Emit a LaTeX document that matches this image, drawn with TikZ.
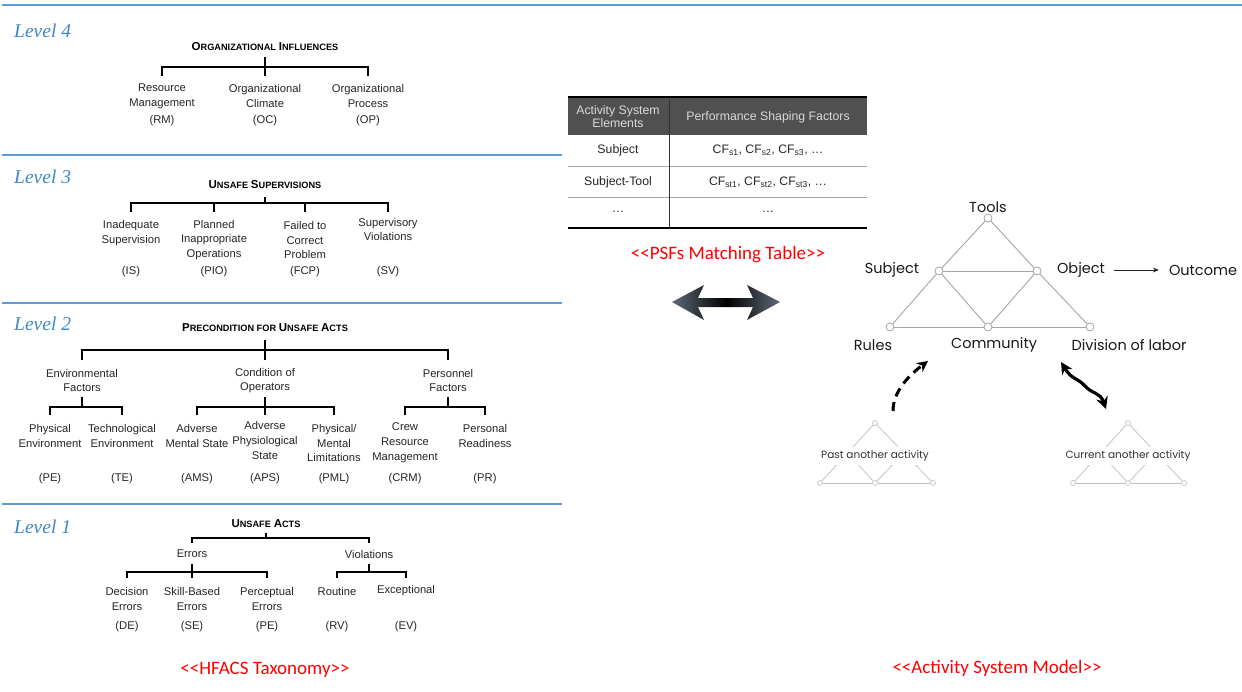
\documentclass[tikz,border=0pt]{standalone}
\usepackage{fontspec}
\setmainfont{Liberation Sans}
\newfontfamily\levelfont{Liberation Serif}
\newfontfamily\capfont{Carlito}
\newfontfamily\amfont{Poppins}
\usetikzlibrary{arrows.meta}

\definecolor{lvlblue}{RGB}{62,135,200}
\definecolor{rulblue}{RGB}{91,155,213}
\definecolor{hdrgray}{RGB}{80,80,80}
\definecolor{edgegray}{RGB}{165,165,165}
\definecolor{ghostgray}{RGB}{190,190,190}
\definecolor{arrgray}{RGB}{95,106,118}

% fake small caps: large initial, smaller capitals
\newcommand\scword[2]{{\fontsize{11.5}{13}\selectfont #1}{\fontsize{9.2}{11}\selectfont #2}}

\tikzset{
  lvl/.style={font=\levelfont\itshape\fontsize{19.5}{22}\selectfont, text=lvlblue, anchor=west, inner sep=0pt},
  head/.style={font=\bfseries, inner sep=0pt},
  item/.style={font=\fontsize{11.2}{14.8}\selectfont, text=black!85, align=center, inner sep=0pt},
  abbr/.style={font=\fontsize{11.2}{13}\selectfont, text=black!85, inner sep=0pt},
  tree/.style={line width=1.7pt, line join=miter},
  sepline/.style={rulblue, line width=2.8pt},
  caption/.style={font=\capfont\fontsize{19}{22}\selectfont, text=red, inner sep=0pt},
  cell/.style={font=\fontsize{12.3}{14}\selectfont, text=black!85, inner sep=0pt},
  hcell/.style={font=\fontsize{12.3}{13.5}\selectfont, text=white!85!black, align=center, inner sep=0pt},
  vtx/.style={circle, draw=edgegray, fill=white, line width=0.8pt, minimum size=8pt, inner sep=0pt},
  svtx/.style={circle, draw=ghostgray, fill=white, line width=0.6pt, minimum size=5pt, inner sep=0pt},
  amedge/.style={draw=edgegray, line width=0.9pt},
  sedge/.style={draw=ghostgray, line width=0.7pt},
  amlabel/.style={font=\amfont\fontsize{14.5}{16}\selectfont, text=black!90, inner sep=0pt},
  slabel/.style={font=\amfont\fontsize{10.5}{12}\selectfont, text=black!80, fill=white, inner xsep=1pt, inner ysep=4pt},
  bigtip/.style={-{Stealth[length=11pt,width=11pt]}},
}

\begin{document}
\begin{tikzpicture}[x=1pt,y=-1pt]
\fill[white] (0,0) rectangle (1242,691);
\useasboundingbox (0,0) rectangle (1242,691);

% ---------- separators ----------
\draw[sepline] (2,5) -- (1242,5);
\draw[sepline] (2,155) -- (562,155);
\draw[sepline] (2,303) -- (562,303);
\draw[sepline] (2,504) -- (562,504);

% ---------- Level 4 ----------
\node[lvl] (lv4) at (14,31) {Level 4};
\node[head] (oi) at (265,47) {\scword{O}{RGANIZATIONAL} \scword{I}{NFLUENCES}};
\node[item] (rm) at (162,96) {Resource\\Management};
\node[item] (oc) at (265,96) {Organizational\\Climate};
\node[item] (op) at (368,96) {Organizational\\Process};
\node[abbr] (rmx) at (162,121) {(RM)};
\node[abbr] (ocx) at (265,121) {(OC)};
\node[abbr] (opx) at (368,121) {(OP)};
\coordinate (j4) at (265,67);
\draw[tree] (j4 -| rm) ++(0,9) -- (j4 -| rm) -- (j4 -| op) -- ++(0,9);
\draw[tree] (j4) ++(0,-10) -- ++(0,19);

% ---------- Level 3 ----------
\node[lvl] (lv3) at (14,177) {Level 3};
\node[head] (us) at (265,185) {\scword{U}{NSAFE} \scword{S}{UPERVISIONS}};
\node[item] (is) at (131,233) {Inadequate\\Supervision};
\node[item] (pio) at (214,240) {Planned\\Inappropriate\\Operations};
\node[item] (fcp) at (305,240) {Failed to\\Correct\\Problem};
\node[item] (sv) at (388,229.5) {Supervisory\\Violations};
\node[abbr] (isx) at (131,272) {(IS)};
\node[abbr] (piox) at (214,272) {(PIO)};
\node[abbr] (fcpx) at (305,272) {(FCP)};
\node[abbr] (svx) at (388,272) {(SV)};
\coordinate (j3) at (265,203);
\draw[tree] (j3 -| is) ++(0,9) -- (j3 -| is) -- (j3 -| sv) -- ++(0,9);
\draw[tree] (j3 -| pio) -- ++(0,9);
\draw[tree] (j3 -| fcp) -- ++(0,9);
\draw[tree] (j3) -- ++(0,-6);

% ---------- Level 2 ----------
\node[lvl] (lv2) at (14,324) {Level 2};
\node[head] (pua) at (265,328) {\scword{P}{RECONDITION FOR} \scword{U}{NSAFE} \scword{A}{CTS}};
\node[item] (ef) at (82,380.5) {Environmental\\Factors};
\node[item] (co) at (265,380.5) {Condition of\\Operators};
\node[item] (pf) at (448,380.5) {Personnel\\Factors};
\coordinate (j2) at (265,350);
\draw[tree] (j2 -| ef) ++(0,10) -- (j2 -| ef) -- (j2 -| pf) -- ++(0,10);
\draw[tree] (j2) ++(0,-10) -- ++(0,20);

\node[item] (pe2) at (50,436) {Physical\\Environment};
\node[item] (te) at (122,436) {Technological\\Environment};
\node[item] (ams) at (197,436) {Adverse\\Mental State};
\node[item] (aps) at (265,440.5) {Adverse\\Physiological\\State};
\node[item] (pml) at (334,443) {Physical/\\Mental\\Limitations};
\node[item] (crm) at (405,443) {Crew\\Resource\\Management};
\node[item] (pr) at (485,436) {Personal\\Readiness};
\node[abbr] (pe2x) at (50,479) {(PE)};
\node[abbr] (tex) at (122,479) {(TE)};
\node[abbr] (amsx) at (197,479) {(AMS)};
\node[abbr] (apsx) at (265,479) {(APS)};
\node[abbr] (pmlx) at (334,479) {(PML)};
\node[abbr] (crmx) at (405,479) {(CRM)};
\node[abbr] (prx) at (485,479) {(PR)};

\coordinate (j2a) at (82,407);
\coordinate (j2b) at (265,407);
\coordinate (j2c) at (448,407);
\draw[tree] (j2a -| pe2) ++(0,8) -- (j2a -| pe2) -- (j2a -| te) -- ++(0,8);
\draw[tree] (j2a) -- ++(0,-10);
\draw[tree] (j2b -| ams) ++(0,8) -- (j2b -| ams) -- (j2b -| pml) -- ++(0,8);
\draw[tree] (j2b) ++(0,-10) -- ++(0,18);
\draw[tree] (j2c -| crm) ++(0,8) -- (j2c -| crm) -- (j2c -| pr) -- ++(0,8);
\draw[tree] (j2c) -- ++(0,-10);

% ---------- Level 1 ----------
\node[lvl] (lv1) at (14,527) {Level 1};
\node[head] (ua) at (266,524) {\scword{U}{NSAFE} \scword{A}{CTS}};
\node[item] (err) at (192,554) {Errors};
\node[item] (vio) at (369,554) {Violations};
\coordinate (j1) at (266,538);
\draw[tree] (j1 -| err) ++(0,5) -- (j1 -| err) -- (j1 -| vio) -- ++(0,5);
\draw[tree] (j1) -- ++(0,-5);

\node[item] (de) at (127,599) {Decision\\Errors};
\node[item] (se) at (192,599) {Skill-Based\\Errors};
\node[item] (pe1) at (267,599) {Perceptual\\Errors};
\node[item] (rv) at (337,591) {Routine};
\node[item] (ev) at (406,591) {Exceptional};
\node[abbr] (dex) at (127,627) {(DE)};
\node[abbr] (sex) at (192,627) {(SE)};
\node[abbr] (pe1x) at (267,627) {(PE)};
\node[abbr] (rvx) at (337,627) {(RV)};
\node[abbr] (evx) at (406,627) {(EV)};
\coordinate (j1a) at (192,572);
\coordinate (j1b) at (369,572);
\draw[tree] (j1a -| de) ++(0,6) -- (j1a -| de) -- (j1a -| pe1) -- ++(0,6);
\draw[tree] (j1a) ++(0,-8) -- ++(0,14);
\draw[tree] (j1b -| rv) ++(0,6) -- (j1b -| rv) -- (j1b -| ev) -- ++(0,6);
\draw[tree] (j1b) -- ++(0,-8);

\node[caption] (hfacs) at (265,670) {<<HFACS Taxonomy>>};

% ---------- PSF matching table ----------
\fill[hdrgray] (568,97) rectangle (867,135);
\draw[gray!70, line width=0.8pt] (568,166) -- (867,166);
\draw[gray!70, line width=0.8pt] (568,197) -- (867,197);
\draw[black!80, line width=1pt] (669,97) -- (669,228);
\draw[black, line width=2.2pt] (568,97) -- (867,97);
\draw[black, line width=2.2pt] (568,228) -- (867,228);
\node[hcell] (th1) at (618,116.5) {Activity System\\Elements};
\node[hcell] (th2) at (768,117) {Performance Shaping Factors};
\node[cell] (r1a) at (618,150) {Subject};
\node[cell] (r1b) at (768,150) {CF\textsubscript{s1}, CF\textsubscript{s2}, CF\textsubscript{s3}, \ldots};
\node[cell] (r2a) at (618,182) {Subject-Tool};
\node[cell] (r2b) at (768,182) {CF\textsubscript{st1}, CF\textsubscript{st2}, CF\textsubscript{st3}, \ldots};
\node[cell] (r3a) at (618,212) {\ldots};
\node[cell] (r3b) at (768,212) {\ldots};
\node[caption] (psf) at (728,255) {<<PSFs Matching Table>>};

% ---------- two-way arrow between table and model ----------
\shade[left color=arrgray, right color=arrgray, middle color=black]
  (672,302) -- (704,285) -- (698,298) -- (753,298) -- (747,285) -- (780,302)
  -- (747,320) -- (753,307) -- (698,307) -- (704,320) -- cycle;

% ---------- activity system model ----------
\node[vtx] (tl) at (988,218) {};
\node[vtx] (sb) at (939,271) {};
\node[vtx] (ob) at (1037,271) {};
\node[vtx] (ru) at (890,327) {};
\node[vtx] (cm) at (988,327) {};
\node[vtx] (dl) at (1090,327) {};
\draw[amedge] (tl) -- (sb);
\draw[amedge] (tl) -- (ob);
\draw[amedge] (sb) -- (ob);
\draw[amedge] (sb) -- (ru);
\draw[amedge] (sb) -- (cm);
\draw[amedge] (ob) -- (cm);
\draw[amedge] (ob) -- (dl);
\draw[amedge] (ru) -- (cm);
\draw[amedge] (cm) -- (dl);

\node[amlabel] (tlt) at (988,207) {Tools};
\node[amlabel] (sbt) at (892,270) {Subject};
\node[amlabel] (obt) at (1081,270) {Object};
\node[amlabel] (out) at (1203,270) {Outcome};
\node[amlabel] (rut) at (873,345) {Rules};
\node[amlabel] (cmt) at (994,345) {Community};
\node[amlabel] (dlt) at (1129,345) {Division of labor};
\draw[black!85, line width=0.8pt, -{Stealth[length=6pt,width=5pt]}, shorten <=9pt, shorten >=10pt] (obt.east) -- (out.west);

% ---------- past activity (small) ----------
\node[svtx] (ptl) at (875,423) {};
\node[svtx] (psb) at (847.5,453) {};
\node[svtx] (pob) at (904,453) {};
\node[svtx] (pru) at (820,483) {};
\node[svtx] (pcm) at (875,483) {};
\node[svtx] (pdl) at (933,483) {};
\draw[sedge] (ptl) -- (psb);
\draw[sedge] (ptl) -- (pob);
\draw[sedge] (psb) -- (pob);
\draw[sedge] (psb) -- (pru);
\draw[sedge] (psb) -- (pcm);
\draw[sedge] (pob) -- (pcm);
\draw[sedge] (pob) -- (pdl);
\draw[sedge] (pru) -- (pcm);
\draw[sedge] (pcm) -- (pdl);
\node[slabel] (pastlbl) at (875,456) {Past another activity};

% ---------- current activity (small) ----------
\node[svtx] (ctl) at (1128,423) {};
\node[svtx] (csb) at (1100.5,453) {};
\node[svtx] (cob) at (1156,453) {};
\node[svtx] (cru) at (1073,483) {};
\node[svtx] (ccm) at (1128,483) {};
\node[svtx] (cdl) at (1184,483) {};
\draw[sedge] (ctl) -- (csb);
\draw[sedge] (ctl) -- (cob);
\draw[sedge] (csb) -- (cob);
\draw[sedge] (csb) -- (cru);
\draw[sedge] (csb) -- (ccm);
\draw[sedge] (cob) -- (ccm);
\draw[sedge] (cob) -- (cdl);
\draw[sedge] (cru) -- (ccm);
\draw[sedge] (ccm) -- (cdl);
\node[slabel] (curlbl) at (1128,456) {Current another activity};

% ---------- links from the other activities ----------
\coordinate (pasta) at (893,411);
\coordinate (pastb) at (928,361);
\draw[line width=3pt, dash pattern=on 9pt off 6pt, bigtip]
  (pasta) .. controls (893,392) and (908,376) .. (pastb);
\coordinate (cura) at (1061,362);
\coordinate (curb) at (1106,409);
\draw[line width=3.2pt, {Stealth[length=12pt,width=12pt]}-{Stealth[length=12pt,width=12pt]}]
  (cura) .. controls (1072,380) and (1078,378) .. (1085,386)
  .. controls (1092,394) and (1100,392) .. (curb);

\node[caption] (asm) at (997,668) {<<Activity System Model>>};
\end{tikzpicture}
\end{document}
